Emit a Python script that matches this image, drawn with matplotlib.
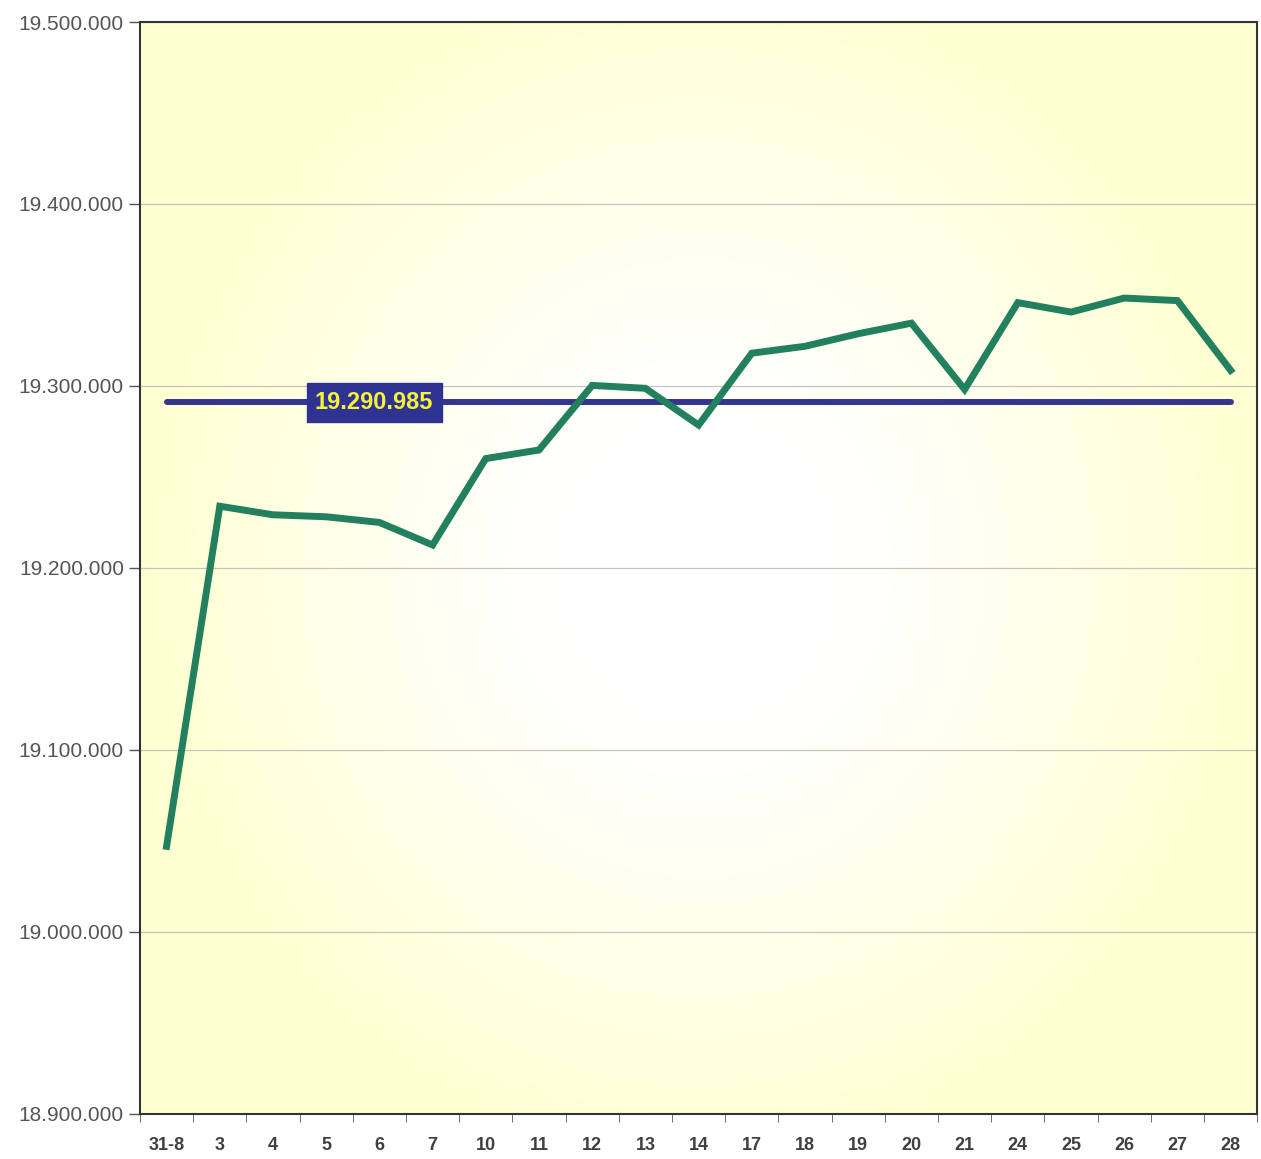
import numpy as np
import matplotlib
matplotlib.use("Agg")
from matplotlib import pyplot as plt
from matplotlib.ticker import FuncFormatter, MultipleLocator

plt.rcParams['font.family'] = ['Liberation Sans', 'DejaVu Sans']

# days of the month (31-8 = 31 August)
days = ["31-8", "3", "4", "5", "6", "7", "10", "11", "12", "13", "14",
        "17", "18", "19", "20", "21", "24", "25", "26", "27", "28"]
values = [19047000, 19233900, 19229200, 19228100, 19225000, 19212600,
          19260100, 19264800, 19300300, 19298700, 19278500, 19318000,
          19321800, 19328700, 19334500, 19298100, 19345800, 19340600,
          19348300, 19346900, 19308600]
average = 19290985
avg_label = "19.290.985"

fig = plt.figure(figsize=(12.61, 11.59), dpi=100)
ax = fig.add_axes([0.111, 0.039, 0.886, 0.942])

x = np.arange(len(days))
ax.set_xlim(-0.5, len(days) - 0.5)
ax.set_ylim(18900000, 19500000)

# pale yellow background, white in the middle
gx, gy = np.meshgrid(np.linspace(-1, 1, 300), np.linspace(-1, 1, 300))
rr = np.clip(np.sqrt(gx ** 2 + (gy * 0.9) ** 2), 0, 1)
bg = np.ones((300, 300, 3))
bg[..., 2] = 1 - 0.18 * np.clip((rr - 0.25) / 0.75, 0, 1) ** 1.2
ax.imshow(bg, extent=[-0.5, len(days) - 0.5, 18900000, 19500000],
          aspect='auto', zorder=0, interpolation='bilinear')

ax.yaxis.set_major_locator(MultipleLocator(100000))
ax.grid(axis='y', color='#c4c4bc', lw=0.9, zorder=1)

ax.plot(x, values, color='#23805f', lw=5, solid_joinstyle='miter', zorder=3)
ax.plot([x[0], x[-1]], [average, average], color='#34358f', lw=4.3,
        solid_capstyle='round', zorder=2)
ax.text(3.9, average, avg_label, ha='center', va='center', fontsize=17,
        fontweight='bold', color='#f4f23a', zorder=4,
        bbox=dict(boxstyle='square,pad=0.35', fc='#2e3391', ec='#2e3391'))

def fmt(v, pos):
    return "{:,.0f}".format(v).replace(",", ".")

ax.yaxis.set_major_formatter(FuncFormatter(fmt))
ax.tick_params(axis='y', labelsize=15, colors='#555555', length=8, width=1)
ax.set_xticks(x)
ax.set_xticklabels(days)
ax.set_xticks(np.arange(len(days) + 1) - 0.5, minor=True)
ax.tick_params(axis='x', which='major', length=0, labelsize=13, pad=17,
               labelcolor='#404040')
ax.tick_params(axis='x', which='minor', length=6, color='#555555')
for lab in ax.get_xticklabels():
    lab.set_fontweight('bold')

for s in ax.spines.values():
    s.set_color('#333333')
    s.set_linewidth(1.5)

fig.savefig('out.png', dpi=100)
